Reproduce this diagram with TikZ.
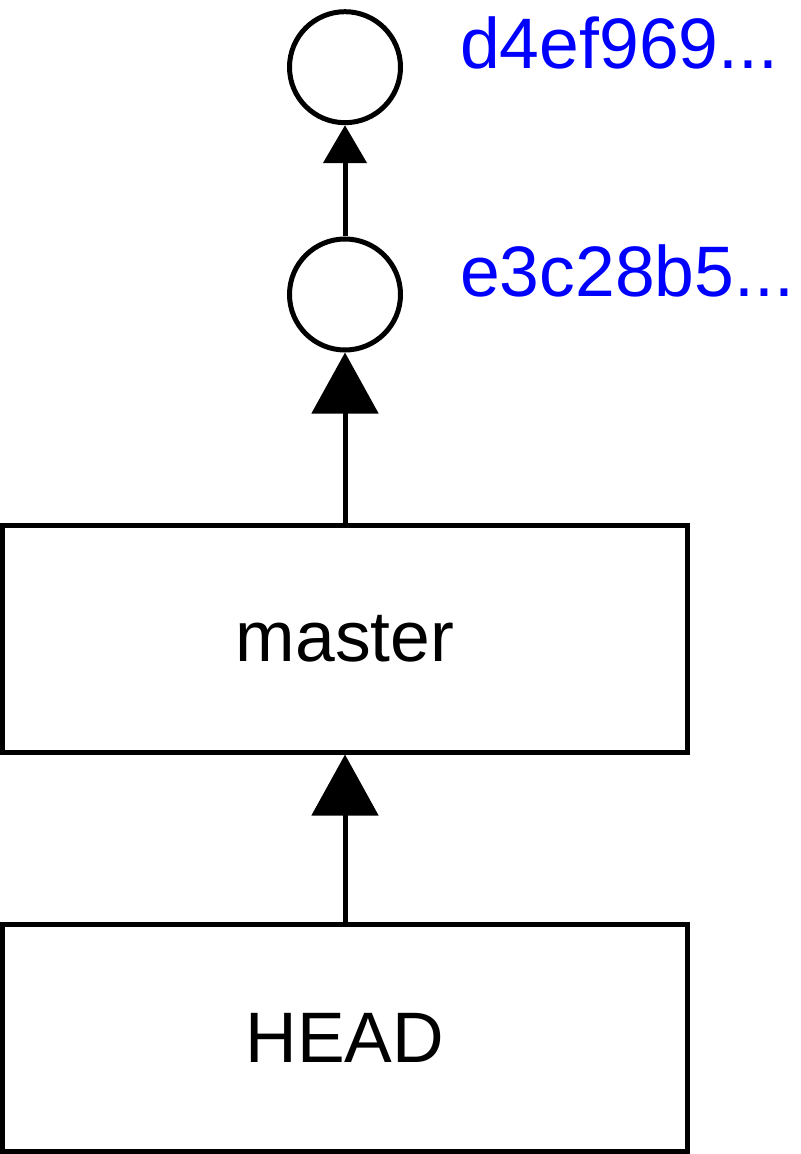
\documentclass[tikz,border=0pt]{standalone}
\usepackage{fontspec}
\setmainfont{Liberation Sans}
\usetikzlibrary{arrows.meta}

\begin{document}
\begin{tikzpicture}[x=0.03cm,y=-0.03cm]
\tikzstyle{every node}+=[inner sep=0pt, font=\fontsize{61}{70}\selectfont]
\tikzstyle{commit}=[draw=black, line width=0.15cm, circle, minimum size=3.33cm]
\tikzstyle{ref}=[draw=black, line width=0.15cm, rectangle, minimum width=20.54cm, minimum height=6.81cm]
\tikzstyle{hash}=[anchor=base west, text=blue]
\useasboundingbox (0,0) rectangle (800,1154);
\node [commit] (c0) at (345,67.2) {};
\node [commit] (c1) at (345,294.5) {};
\node [ref] (master) at (345,638.5) {master};
\node [ref] (head) at (345,1037.8) {HEAD};
\node [hash] (h0) at (460,69) {d4ef969...};
\node [hash] (h1) at (460,296) {e3c28b5...};
\draw [black, line width=0.15cm, -{Triangle[length=1.14cm, width=1.29cm]}] (c1) -- (c0);
\draw [black, line width=0.15cm, -{Triangle[length=1.83cm, width=1.98cm]}] (master) -- (c1);
\draw [black, line width=0.15cm, -{Triangle[length=1.83cm, width=1.98cm]}] (head) -- (master);
\end{tikzpicture}
\end{document}
